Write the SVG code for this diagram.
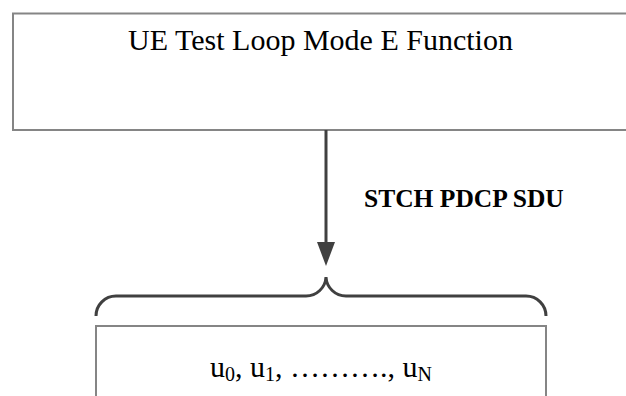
<svg xmlns="http://www.w3.org/2000/svg" width="626" height="396" viewBox="0 0 626 396">
<style>
.box{fill:#fff;stroke:#858585;stroke-width:2}
.conn{fill:none;stroke:#404040;stroke-width:3}
.t{font-family:"Liberation Serif","Times New Roman",serif;fill:#000}
</style>
<rect width="626" height="396" fill="#fff"/>
<g id="ue-function">
<rect class="box" x="13" y="13.5" width="700" height="116.5"/>
<text class="t" x="320.5" y="50" font-size="30" text-anchor="middle">UE Test Loop Mode E Function</text>
</g>
<g id="sdu-block">
<rect class="box" x="96" y="326" width="450" height="100"/>
<text class="t" x="321" y="377" font-size="30" text-anchor="middle">u<tspan font-size="20" dy="4">0</tspan><tspan dy="-4">, u</tspan><tspan font-size="20" dy="4">1</tspan><tspan dy="-4">, ………., u</tspan><tspan font-size="20" dy="4">N</tspan></text>
</g>
<g id="connectors">
<line class="conn" x1="326" y1="130" x2="326" y2="244"/>
<polygon points="317,242 335,242 326,266" fill="#404040"/>
<path class="conn" stroke-width="2" d="M96,316 A20,20 0 0 1 116,296 L306,296 A20,20 0 0 0 326,277 A20,20 0 0 0 346,296 L526,296 A20,20 0 0 1 546,316"/>
<text class="t" x="364" y="207" font-size="25.5" font-weight="bold">STCH PDCP SDU</text>
</g>
</svg>
